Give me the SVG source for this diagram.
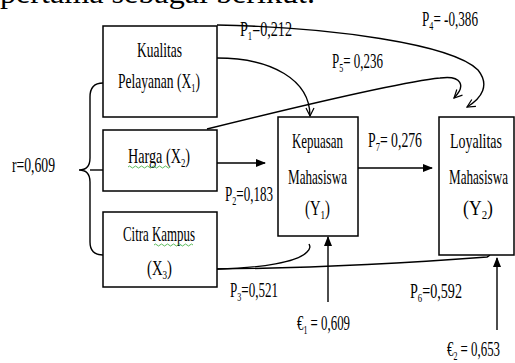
<svg xmlns="http://www.w3.org/2000/svg" width="515" height="363" viewBox="0 0 515 363">
<defs>
<marker id="fill" viewBox="0 0 10 10" refX="9" refY="5" markerWidth="10" markerHeight="10" markerUnits="userSpaceOnUse" orient="auto"><path d="M0,1 L10,5 L0,9 Z" fill="#000"/></marker>
<marker id="open" viewBox="0 0 10 10" refX="9" refY="5" markerWidth="10" markerHeight="10" markerUnits="userSpaceOnUse" orient="auto"><path d="M1,1 L9,5 L1,9" fill="none" stroke="#000" stroke-width="1.2"/></marker>
</defs>
<style>
.box{fill:#fff;stroke:#000;stroke-width:1.5}
.t{font-family:"Liberation Serif","Times New Roman",serif;font-size:21px;fill:#000}
.s{font-size:13px}
.c{fill:none;stroke:#000;stroke-width:1.4}
.w{fill:none;stroke:#3a3;stroke-width:0.8}
</style>
<rect width="515" height="363" fill="#fff"/>
<text class="t" x="0" y="3" style="font-size:30px" textLength="315" lengthAdjust="spacingAndGlyphs">pertama sebagai berikut.</text>

<g id="connectors">
<path class="c" d="M103,83 Q90,83 90,97 L90,158 Q90,170 79,170 Q90,170 90,182 L90,242 Q90,255 103,255"/>
<path class="c" d="M90,170 L103,170"/>
<path class="c" d="M217,58 C272,58 310,80 310,116" marker-end="url(#open)"/>
<path class="c" d="M217,25 C330,27 452,44 478,70 C490,85 482,98 467,107" marker-end="url(#open)"/>
<path class="c" d="M207,129 C300,106 400,82 440,78 C462,75 466,86 454,98" marker-end="url(#open)"/>
<path class="c" d="M217,163 L265,163" marker-end="url(#fill)"/>
<path class="c" d="M358,168 L432,168" marker-end="url(#fill)"/>
<path class="c" d="M217,269 C262,268 298,262 307,252 C311,248 310,246 309,244"/>
<path class="c" d="M217,269 C320,268 420,262 487,257 C492,255 490,252 482,253"/>
<path class="c" d="M328,302 L328,237" marker-end="url(#fill)"/>
<path class="c" d="M497,330 L497,258" marker-end="url(#fill)"/>
</g>

<g id="kualitas">
<rect class="box" x="103" y="26" width="114" height="91"/>
<text class="t" x="137" y="57" textLength="45" lengthAdjust="spacingAndGlyphs">Kualitas</text>
<text class="t" x="118" y="88" textLength="82" lengthAdjust="spacingAndGlyphs">Pelayanan (X<tspan class="s" dy="4">1</tspan><tspan dy="-4">)</tspan></text>
</g>
<g id="harga">
<rect class="box" x="103" y="130" width="114" height="61"/>
<text class="t" x="128" y="163" textLength="62" lengthAdjust="spacingAndGlyphs">Harga  (X<tspan class="s" dy="4">2</tspan><tspan dy="-4">)</tspan></text>
<path class="w" d="M128,167 q1.5,-2 3,0 t3,0 t3,0 t3,0 t3,0 t3,0 t3,0 t3,0 t3,0 t3,0 t3,0 t3,0 t3,0 t3,0"/>
</g>
<g id="citra">
<rect class="box" x="103" y="212" width="114" height="75"/>
<text class="t" x="123" y="241" textLength="72" lengthAdjust="spacingAndGlyphs">Citra Kampus</text>
<path class="w" d="M154,245 q1.5,-2 3,0 t3,0 t3,0 t3,0 t3,0 t3,0 t3,0 t3,0 t3,0 t3,0 t3,0 t3,0 t3,0"/>
<text class="t" x="147" y="275" textLength="25" lengthAdjust="spacingAndGlyphs">(X<tspan class="s" dy="4">3</tspan><tspan dy="-4">)</tspan></text>
</g>
<g id="kepuasan">
<rect class="box" x="278" y="117" width="80" height="119"/>
<text class="t" x="292" y="148" textLength="51" lengthAdjust="spacingAndGlyphs">Kepuasan</text>
<text class="t" x="288" y="184" textLength="59" lengthAdjust="spacingAndGlyphs">Mahasiswa</text>
<text class="t" x="305" y="215" textLength="25" lengthAdjust="spacingAndGlyphs">(Y<tspan class="s" dy="4">1</tspan><tspan dy="-4">)</tspan></text>
</g>
<g id="loyalitas">
<rect class="box" x="439" y="117" width="75" height="138"/>
<text class="t" x="450" y="148" textLength="52" lengthAdjust="spacingAndGlyphs">Loyalitas</text>
<text class="t" x="449" y="184" textLength="59" lengthAdjust="spacingAndGlyphs">Mahasiswa</text>
<text class="t" x="463" y="215" textLength="30" lengthAdjust="spacingAndGlyphs">(Y<tspan class="s" dy="4">2</tspan><tspan dy="-4">)</tspan></text>
</g>

<g id="labels">
<text class="t" x="12" y="172" textLength="43" lengthAdjust="spacingAndGlyphs">r=0,609</text>
<text class="t" x="240" y="36" textLength="52" lengthAdjust="spacingAndGlyphs">P<tspan class="s" dy="4">1</tspan><tspan dy="-4">=0,212</tspan></text>
<text class="t" x="422" y="26" textLength="56" lengthAdjust="spacingAndGlyphs">P<tspan class="s" dy="4">4</tspan><tspan dy="-4">= -0,386</tspan></text>
<text class="t" x="332" y="68" textLength="51" lengthAdjust="spacingAndGlyphs">P<tspan class="s" dy="4">5</tspan><tspan dy="-4">= 0,236</tspan></text>
<text class="t" x="368" y="147" textLength="54" lengthAdjust="spacingAndGlyphs">P<tspan class="s" dy="4">7</tspan><tspan dy="-4">= 0,276</tspan></text>
<text class="t" x="225" y="201" textLength="48" lengthAdjust="spacingAndGlyphs">P<tspan class="s" dy="4">2</tspan><tspan dy="-4">=0,183</tspan></text>
<text class="t" x="230" y="297" textLength="48" lengthAdjust="spacingAndGlyphs">P<tspan class="s" dy="4">3</tspan><tspan dy="-4">=0,521</tspan></text>
<text class="t" x="410" y="298" textLength="52" lengthAdjust="spacingAndGlyphs">P<tspan class="s" dy="4">6</tspan><tspan dy="-4">=0,592</tspan></text>
<text class="t" x="297" y="330" textLength="53" lengthAdjust="spacingAndGlyphs">€<tspan class="s" dy="4">1</tspan><tspan dy="-4"> = 0,609</tspan></text>
<text class="t" x="447" y="356" textLength="53" lengthAdjust="spacingAndGlyphs">€<tspan class="s" dy="4">2</tspan><tspan dy="-4"> = 0,653</tspan></text>
</g>
</svg>
